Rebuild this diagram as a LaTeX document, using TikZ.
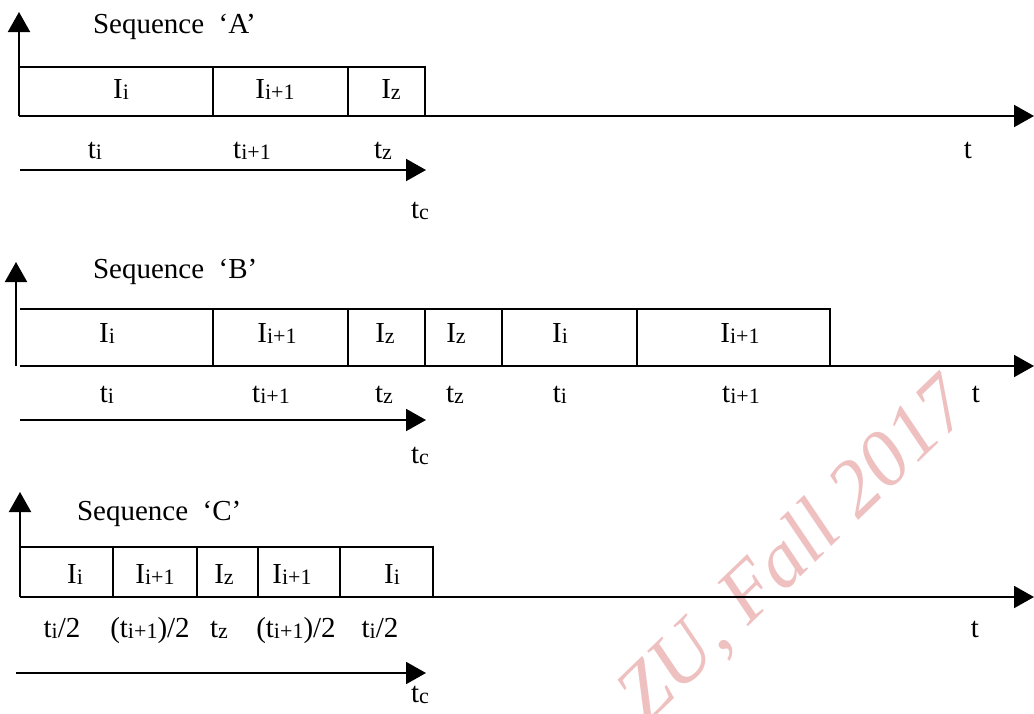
\documentclass[tikz,border=0pt]{standalone}
\usepackage{fontspec}
\setmainfont{Liberation Serif}
\usetikzlibrary{arrows.meta}
\newcommand\lo[1]{\raisebox{-0.06em}{\fontsize{22}{22}\selectfont #1}}
\definecolor{wmpink}{RGB}{238,192,192}
\begin{document}
\begin{tikzpicture}[x=1pt,y=-1pt,line width=2pt,
  lbl/.style={inner sep=0pt,anchor=base,font=\fontsize{29}{31}\selectfont},
  ttl/.style={inner sep=0pt,anchor=base west,font=\fontsize{29}{31}\selectfont},
  axisarrow/.style={-{Triangle[length=20pt,width=22pt]}},
  wm/.style={inner sep=0pt,text=wmpink,font=\fontsize{80}{80}\selectfont\itshape}]
\useasboundingbox (0,0) rectangle (1034,713);
\begin{scope}
\clip (0,0) rectangle (1034,713);
\node[wm,rotate=44] (wmark) at (795,552) {ZU, Fall 2017};
\end{scope}

% ---------------- Sequence A ----------------
\coordinate (A0) at (19,116);
\coordinate (Aup) at (19,12);
\coordinate (Aend) at (1034,116);
\coordinate (Ac0) at (20,170);
\coordinate (Ac1) at (426,170);
\draw (19,67) -- (425,67) -- (425,116);
\draw (213,67) -- (213,116);
\draw (348,67) -- (348,116);
\draw[axisarrow] (A0) -- (Aup);
\draw[axisarrow] (A0) -- (Aend);
\draw[axisarrow] (Ac0) -- (Ac1);
\node[ttl] (Atitle) at (92,33) {Sequence\hspace{0.5em}‘A’};
\node[lbl] (AI1) at (121,98) {I\lo{i}};
\node[lbl] (AI2) at (275,98) {I\lo{i+1}};
\node[lbl] (AI3) at (391,98) {I\lo{z}};
\node[lbl] (At1) at (95,158) {t\lo{i}};
\node[lbl] (At2) at (252,158) {t\lo{i+1}};
\node[lbl] (At3) at (383,158) {t\lo{z}};
\node[lbl] (At) at (968,158) {t};
\node[lbl] (Atc) at (420,218) {t\lo{c}};

% ---------------- Sequence B ----------------
\coordinate (B0) at (16,366);
\coordinate (Bup) at (16,262);
\coordinate (B1) at (20,366);
\coordinate (Bend) at (1034,366);
\coordinate (Bc0) at (20,420);
\coordinate (Bc1) at (426,420);
\draw (20,309) -- (830,309) -- (830,366);
\foreach \x in {213,348,425,502,637} \draw (\x,309) -- (\x,366);
\draw[axisarrow] (B0) -- (Bup);
\draw[axisarrow] (B1) -- (Bend);
\draw[axisarrow] (Bc0) -- (Bc1);
\node[ttl] (Btitle) at (92,278) {Sequence\hspace{0.5em}‘B’};
\node[lbl] (BI1) at (107,342) {I\lo{i}};
\node[lbl] (BI2) at (277,342) {I\lo{i+1}};
\node[lbl] (BI3) at (385,342) {I\lo{z}};
\node[lbl] (BI4) at (456,342) {I\lo{z}};
\node[lbl] (BI5) at (560,342) {I\lo{i}};
\node[lbl] (BI6) at (740,342) {I\lo{i+1}};
\node[lbl] (Bt1) at (107,402) {t\lo{i}};
\node[lbl] (Bt2) at (271,402) {t\lo{i+1}};
\node[lbl] (Bt3) at (384,402) {t\lo{z}};
\node[lbl] (Bt4) at (455,402) {t\lo{z}};
\node[lbl] (Bt5) at (560,402) {t\lo{i}};
\node[lbl] (Bt6) at (741,402) {t\lo{i+1}};
\node[lbl] (Bt) at (976,402) {t};
\node[lbl] (Btc) at (420,463) {t\lo{c}};

% ---------------- Sequence C ----------------
\coordinate (C0) at (20,597);
\coordinate (Cup) at (20,492);
\coordinate (Cend) at (1034,597);
\coordinate (Cc0) at (16,673);
\coordinate (Cc1) at (426,673);
\draw (21,547) -- (433,547) -- (433,597);
\foreach \x in {113,197,258,340} \draw (\x,547) -- (\x,597);
\draw[axisarrow] (C0) -- (Cup);
\draw[axisarrow] (C0) -- (Cend);
\draw[axisarrow] (Cc0) -- (Cc1);
\node[ttl] (Ctitle) at (76,520) {Sequence\hspace{0.5em}‘C’};
\node[lbl] (CI1) at (75,583) {I\lo{i}};
\node[lbl] (CI2) at (155,583) {I\lo{i+1}};
\node[lbl] (CI3) at (224,583) {I\lo{z}};
\node[lbl] (CI4) at (292,583) {I\lo{i+1}};
\node[lbl] (CI5) at (392,583) {I\lo{i}};
\node[lbl] (Ct1) at (62,637) {t\lo{i}/2};
\node[lbl] (Ct2) at (150,637) {(t\lo{i+1})/2};
\node[lbl] (Ct3) at (219,637) {t\lo{z}};
\node[lbl] (Ct4) at (296,637) {(t\lo{i+1})/2};
\node[lbl] (Ct5) at (380,637) {t\lo{i}/2};
\node[lbl] (Ct) at (975,637) {t};
\node[lbl] (Ctc) at (420,702) {t\lo{c}};
\end{tikzpicture}
\end{document}
